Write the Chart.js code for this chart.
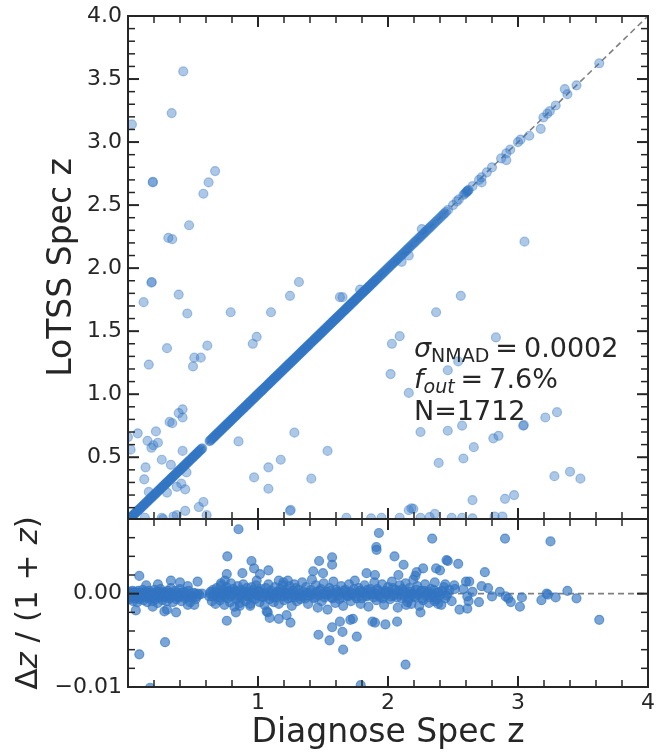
<!DOCTYPE html>
<html>
<head>
<meta charset="utf-8">
<script src="https://cdn.jsdelivr.net/npm/chart.js@4.4.1/dist/chart.umd.min.js"></script>
<style>
  body { margin: 0; background: #fff; }
  #wrap { position: relative; width: 668px; height: 754px; }
  #top { position: absolute; left: 0; top: 0; }
  #bot { position: absolute; left: 0; top: 500px; }
</style>
</head>
<body>
<div id="wrap">
  <canvas id="top" width="668" height="530" style="width:668px;height:530px"></canvas>
  <canvas id="bot" width="668" height="254" style="width:668px;height:254px"></canvas>
</div>
<script>
// sources on the 1:1 relation (LoTSS z == Diagnose z)
const lineZ = [
  0.000, 0.011, 0.023, 0.035, 0.046, 0.058, 0.071, 0.082, 0.093, 0.106, 0.117, 0.128, 0.141, 0.152,
  0.163, 0.176, 0.186, 0.199, 0.21, 0.222, 0.233, 0.246, 0.257, 0.268, 0.281, 0.291, 0.304, 0.315,
  0.327, 0.338, 0.351, 0.361, 0.374, 0.385, 0.397, 0.408, 0.421, 0.431, 0.444, 0.455, 0.467, 0.478,
  0.491, 0.501, 0.514, 0.525, 0.537, 0.548, 0.561, 0.571,
  0.627, 0.638, 0.651, 0.662, 0.674, 0.685, 0.698, 0.708, 0.721, 0.732, 0.745, 0.755, 0.768, 0.779,
  0.791, 0.802, 0.815, 0.826, 0.838, 0.849, 0.862, 0.873, 0.885, 0.896, 0.909, 0.92, 0.932, 0.943,
  0.956, 0.967, 0.979, 0.99, 1.003, 1.014, 1.026, 1.037, 1.05, 1.061, 1.073, 1.084, 1.097, 1.108,
  1.121, 1.131, 1.144, 1.155, 1.168, 1.178, 1.191, 1.202, 1.215, 1.226, 1.238, 1.249, 1.262, 1.273,
  1.285, 1.296, 1.309, 1.32, 1.333, 1.343, 1.356, 1.367, 1.38, 1.39, 1.403, 1.414, 1.427, 1.438,
  1.45, 1.461, 1.474, 1.485, 1.497, 1.508, 1.521, 1.532, 1.545, 1.555, 1.568, 1.579, 1.592, 1.602,
  1.615, 1.626, 1.639, 1.65, 1.662, 1.673, 1.686, 1.697, 1.709, 1.72, 1.733, 1.744, 1.757, 1.767,
  1.78, 1.791, 1.804, 1.815, 1.827, 1.838, 1.851, 1.862, 1.875, 1.885, 1.898, 1.91, 1.925, 1.941,
  1.957, 1.972, 1.99, 2.006, 2.022, 2.04, 2.056, 2.072, 2.091, 2.108, 2.126, 2.143, 2.161, 2.18,
  2.2, 2.218, 2.237, 2.255, 2.276, 2.295, 2.316, 2.335, 2.356, 2.378, 2.401, 2.425, 2.446, 2.462,
  2.5, 2.53, 2.545, 2.58, 2.59, 2.6, 2.605, 2.61, 2.615, 2.62, 2.65, 2.7, 2.72, 2.76, 2.8, 2.87,
  2.91, 2.94, 3.0, 3.02, 3.195, 3.225, 3.245, 3.29, 3.38, 3.45, 3.625
];
// more sources on the relation where the band is packed
const lineZFill = [
  0.005, 0.017, 0.029, 0.04, 0.052, 0.064, 0.076, 0.087, 0.099, 0.111, 0.122, 0.134, 0.146, 0.158,
  0.169, 0.181, 0.192, 0.204, 0.216, 0.228, 0.239, 0.251, 0.262, 0.274, 0.286, 0.297, 0.309, 0.321,
  0.332, 0.344, 0.356, 0.367, 0.379, 0.391, 0.402, 0.414, 0.426, 0.437, 0.449, 0.461, 0.472, 0.484,
  0.496, 0.507, 0.519, 0.531, 0.542, 0.554, 0.566,
  0.632, 0.644, 0.656, 0.668, 0.679, 0.691, 0.703, 0.714, 0.726, 0.738, 0.75, 0.761, 0.773, 0.785,
  0.796, 0.808, 0.82, 0.832, 0.843, 0.855, 0.867, 0.878, 0.89, 0.902, 0.914, 0.926, 0.937, 0.949,
  0.961, 0.973, 0.984, 0.996, 1.008, 1.02, 1.031, 1.043, 1.055, 1.067, 1.078, 1.09, 1.102, 1.114,
  1.125, 1.137, 1.149, 1.161, 1.173, 1.184, 1.196, 1.208, 1.22, 1.232, 1.243, 1.255, 1.267, 1.279,
  1.29, 1.302, 1.314, 1.326, 1.338, 1.349, 1.361, 1.373, 1.385, 1.396, 1.408, 1.42, 1.432, 1.444,
  1.455, 1.467, 1.479, 1.491, 1.502, 1.514, 1.526, 1.538, 1.55, 1.561, 1.573, 1.585, 1.597, 1.608,
  1.62, 1.632, 1.644, 1.656, 1.667, 1.679, 1.691, 1.703, 1.714, 1.726, 1.738, 1.75, 1.762, 1.773,
  1.785, 1.797, 1.809, 1.821, 1.832, 1.844, 1.856, 1.868, 1.88, 1.891, 1.903, 1.917, 1.933, 1.949,
  1.965, 1.981, 1.998, 2.014, 2.031, 2.048, 2.064, 2.081, 2.1, 2.117, 2.135, 2.152, 2.17, 2.19,
  2.209, 2.228, 2.246, 2.266, 2.285, 2.305, 2.325, 2.345, 2.367, 2.389, 2.413, 2.435
];

// [Diagnose z, LoTSS z] for sources off the relation
const outlierPts = [
  [0.425, 3.56], [0.336, 3.23], [0.03, 3.14], [0.19, 2.68], [0.192, 2.685], [0.67, 2.77], [0.62, 2.68],
  [0.58, 2.59], [0.47, 2.34], [0.31, 2.24], [0.34, 2.23], [0.18, 1.885], [0.183, 1.89], [0.12, 1.73],
  [0.39, 1.79], [0.456, 1.64], [0.79, 1.65], [1.10, 1.65], [1.246, 1.78], [1.315, 1.89], [1.63, 1.77],
  [1.65, 1.77], [0.30, 1.365], [0.16, 1.235], [0.61, 1.385], [0.51, 1.29], [0.56, 1.29], [0.50, 1.22],
  [0.96, 1.40], [0.99, 1.455], [0.42, 0.88], [0.39, 0.85], [0.42, 0.815], [0.32, 0.78], [0.34, 0.77],
  [0.075, 0.69], [0.0, 0.66], [0.215, 0.705], [0.15, 0.63], [0.23, 0.615], [0.18, 0.575], [0.195, 0.595],
  [0.02, 0.56], [0.42, 0.55], [0.26, 0.48], [0.33, 0.44], [0.135, 0.42], [0.45, 0.38], [0.125, 0.325],
  [0.41, 0.29], [0.375, 0.265], [0.44, 0.245], [0.30, 0.22], [0.16, 0.225], [0.85, 0.625], [1.28, 0.695],
  [0.97, 0.34], [1.08, 0.42], [1.175, 0.48], [1.08, 0.25], [1.41, 0.33], [1.535, 0.55], [1.246, 0.075],
  [1.252, 0.082], [0.58, 0.145], [0.545, 0.105], [0.44, 0.075], [0.375, 0.04], [0.35, 0.03], [0.26, 0.02],
  [0.13, 0.02], [0.605, 0.04], [0.27, 0.01],
  [2.56, 1.78], [2.37, 1.65], [2.09, 1.46], [2.03, 1.40], [2.83, 1.45], [2.54, 1.26], [2.46, 1.19],
  [2.02, 1.16], [2.16, 1.01], [2.57, 0.75], [2.46, 0.71], [2.25, 0.70], [3.04, 0.75], [3.045, 0.755],
  [3.21, 0.815], [3.30, 0.857], [2.85, 0.67], [2.81, 0.65], [2.66, 0.58], [2.39, 0.455], [2.58, 0.49],
  [3.28, 0.35], [3.40, 0.385], [3.48, 0.33], [2.65, 0.16], [2.9, 0.17], [2.97, 0.2], [2.16, 0.08],
  [2.195, 0.09], [2.18, 0.095], [2.36, 0.05],
  [1.68, 0.02], [1.87, 0.015], [1.95, 0.02], [2.09, 0.02], [2.25, 0.02], [2.32, 0.025], [2.49, 0.02],
  [2.57, 0.02], [2.65, 0.015], [2.82, 0.03], [2.88, 0.03],
  [3.05, 2.21], [3.36, 3.42], [3.175, 3.105], [3.087, 3.05], [2.91, 2.857], [2.72, 2.68], [1.785, 1.83],
  [2.26, 2.31], [2.16, 2.10], [2.105, 2.05]
];

// [Diagnose z, dz/(1+z)] in the lower panel: the central band
const residCore = [
  [0.004, -0.0002], [0.01, 0.0002], [0.015, -0.0006], [0.022, 0.0001], [0.028, -0.0004], [0.034, 0.0003],
  [0.04, -0.0008], [0.047, -0.0001], [0.053, 0.0002], [0.06, -0.0005], [0.066, 0.0], [0.072, -0.0009],
  [0.079, 0.0003], [0.085, -0.0003], [0.092, -0.0006], [0.1, 0.0001], [0.107, -0.0002], [0.113, 0.0004],
  [0.12, -0.0007], [0.127, -0.0001], [0.134, 0.0002], [0.14, -0.0004], [0.148, -0.0009], [0.155, 0.0],
  [0.162, 0.0003], [0.17, -0.0005], [0.176, -0.0002], [0.184, 0.0001], [0.19, -0.0008], [0.198, -0.0003],
  [0.205, 0.0004], [0.212, -0.0006], [0.22, 0.0], [0.228, -0.001], [0.235, 0.0002], [0.243, -0.0004],
  [0.25, 0.0005], [0.258, -0.0001], [0.266, -0.0007], [0.273, 0.0002], [0.281, -0.0003], [0.29, 0.0],
  [0.298, -0.0008], [0.306, 0.0003], [0.314, -0.0002], [0.322, -0.0005], [0.33, 0.0006], [0.338, 0.0],
  [0.346, -0.0009], [0.355, -0.0002], [0.363, 0.0003], [0.372, -0.0006], [0.38, 0.0001], [0.39, -0.0003],
  [0.4, 0.0005], [0.41, -0.0008], [0.42, -0.0001], [0.43, 0.0002], [0.44, -0.0005], [0.452, -0.0002],
  [0.465, 0.0003], [0.478, -0.0009], [0.49, -0.0003], [0.505, 0.0001], [0.52, -0.0006], [0.535, 0.0],
  [0.625, -0.0003], [0.635, 0.0002], [0.645, -0.0008], [0.655, 0.0004], [0.664, -0.0001], [0.673, -0.0011],
  [0.682, 0.0006], [0.69, -0.0004], [0.698, 0.0001], [0.707, -0.0007], [0.716, 0.0009], [0.724, -0.0002],
  [0.733, 0.0004], [0.742, -0.0012], [0.75, 0.0], [0.758, 0.0007], [0.767, -0.0005], [0.775, 0.0002],
  [0.784, -0.0009], [0.792, 0.0011], [0.8, -0.0001], [0.81, 0.0005], [0.818, -0.0014], [0.826, 0.0003],
  [0.835, -0.0006], [0.844, 0.0008], [0.852, -0.0002], [0.861, -0.001], [0.87, 0.0004], [0.878, -0.0004],
  [0.887, 0.001], [0.896, 0.0001], [0.905, -0.0008], [0.914, 0.0006], [0.922, -0.0003], [0.93, 0.0002],
  [0.94, -0.0011], [0.95, 0.0007], [0.958, -0.0001], [0.967, 0.0004], [0.976, -0.0006], [0.985, 0.0009],
  [0.994, -0.0002], [1.003, 0.0003], [1.012, -0.0009], [1.02, 0.0005], [1.03, -0.0004], [1.04, 0.0001],
  [1.05, -0.0012], [1.06, 0.0006], [1.07, -0.0002], [1.08, 0.001], [1.09, -0.0006], [1.1, 0.0003],
  [1.11, -0.0001], [1.12, -0.0009], [1.13, 0.0007], [1.14, -0.0004], [1.15, 0.0002], [1.16, -0.0011],
  [1.17, 0.0005], [1.18, -0.0002], [1.19, 0.0009], [1.2, -0.0007], [1.21, 0.0001], [1.22, 0.0004],
  [1.23, -0.0005], [1.24, 0.0008], [1.25, -0.0001], [1.26, -0.0013], [1.27, 0.0003], [1.28, -0.0004],
  [1.29, 0.0006], [1.3, -0.0008], [1.31, 0.0004], [1.325, -0.0006], [1.34, 0.0012], [1.355, -0.0002],
  [1.37, 0.0007], [1.385, -0.0011], [1.4, 0.0001], [1.415, 0.0015], [1.43, -0.0005], [1.445, 0.0009],
  [1.46, -0.0015], [1.475, 0.0003], [1.49, -0.0008], [1.505, 0.0011], [1.52, -0.0001], [1.535, -0.0017],
  [1.55, 0.0006], [1.565, -0.0004], [1.58, 0.0013], [1.595, -0.001], [1.61, 0.0002], [1.625, -0.0006],
  [1.64, 0.0008], [1.655, -0.0013], [1.67, 0.0004], [1.685, -0.0002], [1.7, 0.001], [1.715, -0.0008],
  [1.73, 0.0], [1.745, 0.0014], [1.76, -0.0005], [1.775, 0.0006], [1.79, -0.0011], [1.805, 0.0002],
  [1.82, 0.0009], [1.835, -0.0003], [1.85, -0.0014], [1.865, 0.0005], [1.88, -0.0001], [1.895, 0.0012],
  [1.91, -0.0007], [1.925, 0.0003], [1.94, -0.0004], [1.955, 0.001], [1.97, -0.0012], [1.985, 0.0001],
  [2.0, 0.0007], [2.015, -0.0006], [2.03, 0.0013], [2.045, -0.0002], [2.06, 0.0004], [2.075, -0.0015],
  [2.09, 0.0009], [2.105, -0.0005], [2.12, 0.0002], [2.135, 0.0011], [2.15, -0.0009], [2.165, 0.0006],
  [2.18, -0.0001], [2.195, 0.0015], [2.21, -0.0004], [2.225, 0.0008], [2.24, -0.0013], [2.255, 0.0003],
  [2.27, -0.0007], [2.285, 0.001], [2.3, 0.0], [2.315, -0.001], [2.33, 0.0005], [2.345, -0.0003],
  [2.36, 0.0012], [2.375, -0.0006], [2.39, 0.0002], [2.41, -0.0012], [2.43, 0.0007], [2.45, -0.0002],
  [2.47, 0.0004], [2.49, -0.0008], [2.51, 0.0009]
];
// lower panel: more band sources, close to zero
const residFill = [
  [0.008, -0.0004], [0.019, 0.0], [0.031, -0.0002], [0.044, 0.0001], [0.056, -0.0003], [0.069, -0.0001],
  [0.082, 0.0001], [0.095, -0.0004], [0.11, -0.0002], [0.123, 0.0], [0.137, -0.0003], [0.151, 0.0001],
  [0.166, -0.0002], [0.18, -0.0004], [0.194, 0.0], [0.208, -0.0002], [0.224, 0.0002], [0.238, -0.0003],
  [0.254, -0.0001], [0.27, 0.0001], [0.285, -0.0004], [0.3, -0.0001], [0.318, 0.0001], [0.334, -0.0003],
  [0.35, 0.0], [0.367, -0.0002], [0.384, -0.0004], [0.4, -0.0001], [0.415, 0.0001], [0.435, -0.0003],
  [0.455, 0.0], [0.472, -0.0002], [0.495, -0.0004], [0.512, 0.0], [0.53, -0.0003], [0.548, -0.0001],
  [0.63, 0.0], [0.65, -0.0003], [0.67, 0.0002], [0.69, -0.0001], [0.71, -0.0004], [0.73, 0.0001],
  [0.75, -0.0002], [0.77, 0.0003], [0.79, -0.0003], [0.81, 0.0], [0.83, 0.0002], [0.85, -0.0004],
  [0.87, -0.0001], [0.89, 0.0002], [0.91, -0.0002], [0.93, 0.0], [0.95, -0.0004], [0.97, 0.0001],
  [0.99, -0.0001], [1.01, 0.0002], [1.035, -0.0003], [1.055, 0.0], [1.075, -0.0002], [1.095, 0.0001],
  [1.115, -0.0004], [1.135, 0.0], [1.155, -0.0001], [1.175, 0.0002], [1.195, -0.0003], [1.215, -0.0001],
  [1.235, 0.0001], [1.255, -0.0004], [1.275, 0.0], [1.295, -0.0002],
  [1.318, 0.0], [1.332, -0.0003], [1.348, 0.0002], [1.362, -0.0005], [1.378, 0.0001], [1.393, -0.0002],
  [1.408, 0.0004], [1.422, -0.0001], [1.438, -0.0004], [1.452, 0.0002], [1.468, -0.0002], [1.483, 0.0005],
  [1.498, 0.0], [1.512, -0.0004], [1.528, 0.0002], [1.543, -0.0001], [1.558, 0.0003], [1.573, -0.0005],
  [1.588, 0.0], [1.603, 0.0004], [1.618, -0.0002], [1.633, 0.0001], [1.648, -0.0004], [1.662, 0.0003],
  [1.678, 0.0], [1.692, -0.0003], [1.708, 0.0002], [1.722, -0.0001], [1.738, 0.0005], [1.752, -0.0003],
  [1.768, 0.0], [1.783, 0.0003], [1.798, -0.0005], [1.812, 0.0001], [1.828, -0.0002], [1.842, 0.0004],
  [1.858, -0.0001], [1.872, 0.0002], [1.888, -0.0004], [1.902, 0.0], [1.918, 0.0005], [1.932, -0.0002],
  [1.948, 0.0001], [1.962, -0.0005], [1.978, 0.0003], [1.992, -0.0001], [2.008, 0.0002], [2.022, -0.0003],
  [2.038, 0.0006], [2.052, 0.0], [2.068, -0.0004], [2.082, 0.0003], [2.098, -0.0001], [2.112, 0.0005],
  [2.128, -0.0003], [2.142, 0.0001], [2.158, -0.0006], [2.172, 0.0002], [2.188, 0.0], [2.202, -0.0003],
  [2.218, 0.0004], [2.232, -0.0001], [2.248, 0.0001], [2.262, -0.0005], [2.278, 0.0003], [2.292, -0.0002],
  [2.308, 0.0002], [2.322, -0.0004], [2.338, 0.0], [2.352, 0.0004], [2.368, -0.0003], [2.382, 0.0001],
  [2.4, -0.0002], [2.42, 0.0003], [2.44, -0.0005], [2.46, 0.0]
];

// lower panel: points away from the band
const residWide = [
  [0.087, 0.0019], [0.06, -0.0018], [0.37, -0.002], [0.285, -0.0052], [0.087, -0.0065], [0.17, -0.0101],
  [0.535, 0.0013], [0.23, 0.001], [0.33, 0.0014], [0.4, 0.0012], [0.46, 0.0008], [0.3, -0.0017],
  [0.28, -0.0019], [0.46, -0.0012], [0.51, -0.0012], [0.57, 0.0], [0.14, 0.0009], [0.19, -0.0014],
  [0.764, 0.004], [0.95, 0.0035], [0.97, 0.0027], [1.015, 0.0021], [1.08, 0.0025], [0.88, 0.0022],
  [0.76, 0.0021], [0.715, 0.0011], [0.85, 0.0069], [0.76, -0.0029], [0.83, -0.002], [1.09, -0.0026],
  [1.16, -0.0027], [1.25, -0.0031], [1.067, -0.0019], [0.94, -0.0013], [0.86, -0.0013], [0.745, 0.0014],
  [0.99, 0.0014], [1.16, 0.0014], [1.195, 0.0012], [1.23, 0.0014], [1.28, 0.001], [1.22, -0.0023],
  [1.075, -0.002], [1.93, 0.0065], [1.91, 0.005], [1.912, 0.0047], [2.34, 0.0059], [2.05, 0.004],
  [1.47, 0.0035], [1.57, 0.0039], [1.57, 0.0031], [2.12, 0.0031], [2.45, 0.0036], [2.46, 0.0035],
  [2.54, 0.0032], [2.37, 0.0027], [2.4, 0.0025], [2.27, 0.0027], [2.22, 0.0023], [2.21, 0.0019],
  [1.425, 0.0024], [1.5, 0.0022], [1.835, 0.0022], [1.9, 0.002], [2.08, 0.002], [1.465, -0.0044],
  [1.55, -0.005], [1.655, -0.006], [1.65, -0.0041], [1.76, -0.0046], [1.57, -0.0036], [1.71, -0.0028],
  [1.73, -0.0027], [1.63, -0.003], [1.88, -0.003], [1.9, -0.0031], [1.98, -0.0033], [2.07, -0.003],
  [2.25, -0.002], [2.135, -0.0076], [1.79, -0.0098], [2.18, -0.0011], [2.14, -0.0012], [2.385, -0.0011],
  [2.36, -0.0008], [2.44, 0.001], [2.515, 0.0005],
  [2.6, 0.0013], [2.625, 0.0013], [2.72, 0.0008], [2.77, 0.0006], [2.86, 0.0002], [2.905, -0.0003],
  [2.925, -0.0005], [3.03, -0.0004], [3.015, -0.0014], [2.945, -0.0009], [3.18, -0.0007], [3.22, 0.0],
  [3.23, -0.0001], [3.29, -0.0004], [3.38, 0.0003], [3.45, -0.0005], [3.625, -0.0028], [2.7, -0.0009],
  [2.61, -0.0016], [2.55, -0.0017], [2.61, -0.0003], [2.8, -0.0003], [2.745, 0.0023], [2.9, 0.0059],
  [3.25, 0.0056], [2.58, 0.0005], [2.62, -0.0008], [2.65, 0.0002]
];

const xTicks = [1, 2, 3, 4];
const topYTicks = [0.5, 1.0, 1.5, 2.0, 2.5, 3.0, 3.5, 4.0];
const botYTicks = [-0.01, 0.0];
const oneToOne = [0, 4];

const sigmaNMAD = '0.0002';
const fOut = '7.6%';
const nSources = 1712;

const INK = '#262626';
const FONT = '"DejaVu Sans"';
Chart.defaults.font.family = FONT;
Chart.defaults.color = INK;

// matplotlib style ticks: inward on all four sides
const innerTicks = {
  id: 'innerTicks',
  afterDatasetsDraw(chart, args, o) {
    const {ctx, chartArea: a, scales: {x, y}} = chart;
    ctx.save();
    ctx.strokeStyle = INK;
    const line = (x1, y1, x2, y2, w) => {
      ctx.lineWidth = w;
      ctx.beginPath(); ctx.moveTo(x1, y1); ctx.lineTo(x2, y2); ctx.stroke();
    };
    const walk = (scale, step, every, fn) => {
      const k0 = Math.ceil(scale.min / step - 1e-6), k1 = Math.floor(scale.max / step + 1e-6);
      for (let k = k0; k <= k1; k++) {
        const p = scale.getPixelForValue(k * step);
        fn(p, k % every === 0);
      }
    };
    walk(x, o.xStep, o.xEvery, (p, major) => {
      if (p < a.left + 1 || p > a.right - 1) return;
      const L = major ? 11 : 7, w = major ? 2 : 1.5;
      line(p, a.bottom, p, a.bottom - L, w);
      line(p, a.top, p, a.top + L, w);
    });
    walk(y, o.yStep, o.yEvery, (p, major) => {
      if (p < a.top + 1 || p > a.bottom - 1) return;
      const L = major ? 11 : 7, w = major ? 2 : 1.5;
      line(a.left, p, a.left + L, p, w);
      line(a.right, p, a.right - L, p, w);
    });
    ctx.lineWidth = 2;
    ctx.strokeRect(a.left, a.top, a.right - a.left, a.bottom - a.top);
    ctx.restore();
  }
};

const statsText = {
  id: 'statsText',
  afterDraw(chart) {
    const {ctx, chartArea: a} = chart;
    const x0 = a.left + 0.55 * (a.right - a.left);
    let x = x0, y = a.top + 341;
    ctx.save();
    ctx.fillStyle = INK;
    ctx.textBaseline = 'alphabetic';
    ctx.textAlign = 'left';
    const put = (t, font, dy = 0) => {
      ctx.font = font;
      ctx.fillText(t, x, y + dy);
      x += ctx.measureText(t).width;
    };
    const big = '27px ' + FONT, bigI = 'italic 27px ' + FONT;
    put('σ', bigI); put('NMAD', '19px ' + FONT, 5);
    x += 6; put('=', big); x += 6; put(sigmaNMAD, big);
    x = x0; y += 31;
    put('f', bigI); put('out', 'italic 19px ' + FONT, 5);
    x += 6; put('=', big); x += 6; put(fOut, big);
    x = x0; y += 32;
    put('N=' + nSources, big);
    ctx.restore();
  }
};

// lower y label with italic z, as mathtext sets it
const residTitle = {
  id: 'residTitle',
  afterDraw(chart) {
    const {ctx, chartArea: a} = chart;
    const up = '31px ' + FONT, it = 'italic 31px ' + FONT;
    const parts = [['Δ', up], ['z', it], [' / (1 + ', up], ['z', it], [')', up]];
    ctx.save();
    ctx.fillStyle = INK;
    ctx.textBaseline = 'middle';
    ctx.textAlign = 'left';
    let total = 0;
    parts.forEach(([t, f]) => { ctx.font = f; total += ctx.measureText(t).width; });
    ctx.translate(29, (a.top + a.bottom) / 2);
    ctx.rotate(-Math.PI / 2);
    let x = -total / 2;
    parts.forEach(([t, f]) => { ctx.font = f; ctx.fillText(t, x, 0); x += ctx.measureText(t).width; });
    ctx.restore();
  }
};

const pointColor = a => `rgba(50,117,194,${a})`;

function pts(list, alpha) {
  return {
    data: list.map(p => Array.isArray(p) ? {x: p[0], y: p[1]} : {x: p, y: p}),
    backgroundColor: pointColor(alpha), borderColor: pointColor(alpha),
    pointRadius: 4.5, pointBorderWidth: 1.2, clip: 0
  };
}

function yAxis(ticks, fmt, min, max, title, size, pad) {
  return {
    type: 'linear', min, max,
    afterFit: s => { s.width = 128; s.paddingTop = 0; s.paddingBottom = 0; },
    afterBuildTicks: s => { s.ticks = ticks.map(v => ({value: v})); },
    grid: {display: false, drawTicks: false},
    border: {display: false},
    ticks: {padding: 6, font: {size: 22}, color: INK, callback: fmt},
    title: {display: !!title, text: title, color: INK, font: {size, lineHeight: 1}, padding: {top: pad, bottom: 0}}
  };
}

new Chart(document.getElementById('top'), {
  type: 'scatter',
  data: {
    datasets: [
      pts(lineZ, 0.4),
      pts(lineZFill, 0.4),
      pts(outlierPts, 0.4),
      {
        data: oneToOne.map(z => ({x: z, y: z})),
        showLine: true, pointRadius: 0, borderColor: '#7f7f7f', borderWidth: 1.6,
        borderDash: [6, 4], clip: 0
      }
    ]
  },
  options: {
    responsive: false, animation: false,
    layout: {padding: {top: 16, right: 20, bottom: 11, left: 0}},
    plugins: {legend: {display: false}, tooltip: {enabled: false},
      innerTicks: {xStep: 0.2, xEvery: 5, yStep: 0.1, yEvery: 5}},
    scales: {
      x: {type: 'linear', min: 0, max: 4, display: false},
      y: yAxis(topYTicks, v => v.toFixed(1), 0.01, 4.0, 'LoTSS Spec z', 33, 46)
    }
  },
  plugins: [innerTicks, statsText]
});

new Chart(document.getElementById('bot'), {
  type: 'scatter',
  data: {
    datasets: [
      pts(residCore, 0.65),
      pts(residFill, 0.65),
      pts(residWide, 0.65),
      {
        data: oneToOne.map(z => ({x: z, y: 0})),
        showLine: true, pointRadius: 0, borderColor: '#7f7f7f', borderWidth: 1.6,
        borderDash: [6, 4], clip: 0
      }
    ]
  },
  options: {
    responsive: false, animation: false,
    layout: {padding: {top: 19, right: 20, bottom: 0, left: 0}},
    plugins: {legend: {display: false}, tooltip: {enabled: false},
      innerTicks: {xStep: 0.2, xEvery: 5, yStep: 0.002, yEvery: 5}},
    scales: {
      x: {
        type: 'linear', min: 0, max: 4,
        afterFit: s => { s.height = 67; s.paddingLeft = 0; s.paddingRight = 0; },
        afterBuildTicks: s => { s.ticks = xTicks.map(v => ({value: v})); },
        grid: {display: false, drawTicks: false},
        border: {display: false},
        ticks: {padding: 3, font: {size: 22}, color: INK, maxRotation: 0, callback: v => String(v)},
        title: {display: true, text: 'Diagnose Spec z', color: INK, font: {size: 33, lineHeight: 1},
          padding: {top: 0, bottom: 4}}
      },
      y: yAxis(botYTicks, v => v.toFixed(2).replace('-', '\u2212'), -0.01, 0.008, '', 31, 13)
    }
  },
  plugins: [innerTicks, residTitle]
});
</script>
</body>
</html>
